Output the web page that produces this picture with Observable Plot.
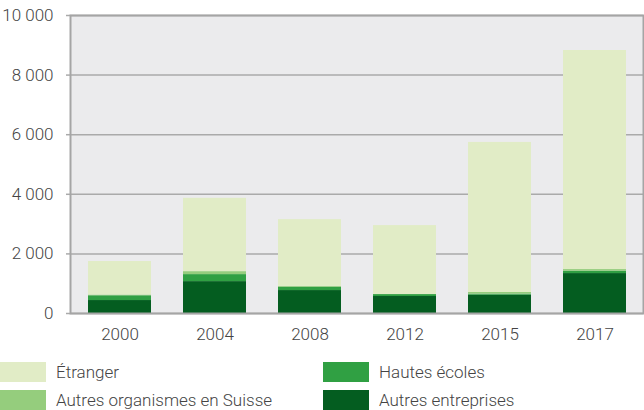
<!DOCTYPE html>
<html>
<head>
<meta charset="utf-8">
<script src="https://cdn.jsdelivr.net/npm/d3@7"></script>
<script src="https://cdn.jsdelivr.net/npm/@observablehq/plot@0.6"></script>
<style>
  body { margin: 0; background: #fff; font-family: Roboto, sans-serif; }
  #chart svg { display: block; }
  #chart svg text { font-weight: 300; }
  .legend { position: relative; height: 48px; margin-top: 12px; font-family: Roboto, sans-serif; font-size: 17px; font-weight: 300; color: #444; }
  .item { position: absolute; display: flex; align-items: center; height: 20px; }
  .sw { width: 46px; height: 20px; margin-right: 10px; }
</style>
</head>
<body>
<div id="chart"></div>
<div class="legend" id="legend"></div>
<script>
const years = ["2000", "2004", "2008", "2012", "2015", "2017"];
const series = ["Autres entreprises", "Hautes écoles", "Autres organismes en Suisse", "Étranger"];
const colors = ["#045d20", "#30a043", "#95cd7d", "#e1ecc6"];
const autresEntreprises = [435, 1070, 770, 570, 615, 1340];
const hautesEcoles = [160, 235, 110, 65, 35, 80];
const autresOrganismes = [25, 100, 30, 5, 55, 55];
const etranger = [1125, 2460, 2240, 2310, 5035, 7350];
const yTicks = [0, 2000, 4000, 6000, 8000, 10000];

const values = [autresEntreprises, hautesEcoles, autresOrganismes, etranger];
const data = [];
series.forEach((s, i) => years.forEach((y, j) => data.push({year: y, series: s, value: values[i][j]})));

const fmt = d => d3.format(",")(d).replace(/,/g, "\u00a0");

const chart = Plot.plot({
  width: 644,
  height: 350,
  marginTop: 15,
  marginBottom: 37,
  marginLeft: 70,
  marginRight: 1,
  style: {fontFamily: "Roboto, sans-serif", fontSize: "17px", color: "#444", background: "#fff"},
  x: {domain: years, paddingInner: 0.34, paddingOuter: 0.17, label: null},
  y: {domain: [0, 10000], label: null},
  color: {domain: series, range: colors},
  marks: [
    Plot.frame({fill: "#ebebed", stroke: null}),
    Plot.gridY(yTicks, {stroke: "#aaa", strokeOpacity: 1, strokeWidth: 1.5}),
    Plot.barY(data, Plot.stackY({x: "year", y: "value", fill: "series", order: series})),
    Plot.axisY(yTicks, {tickFormat: fmt, tickSize: 4, tickPadding: 13, stroke: "#aaa", strokeWidth: 1.5, fill: "#444", label: null}),
    Plot.axisX({tickSize: 0, tickPadding: 14, fill: "#444", label: null}),
    Plot.frame({stroke: "#a5a5a5", strokeWidth: 2})
  ]
});
document.getElementById("chart").append(chart);

const legendItems = [
  {name: "Étranger", color: colors[3], left: 0, top: 0},
  {name: "Hautes écoles", color: colors[1], left: 323, top: 0},
  {name: "Autres organismes en Suisse", color: colors[2], left: 0, top: 28},
  {name: "Autres entreprises", color: colors[0], left: 323, top: 28}
];
const lg = document.getElementById("legend");
legendItems.forEach(it => {
  const d = document.createElement("div");
  d.className = "item";
  d.style.left = it.left + "px";
  d.style.top = it.top + "px";
  const sw = document.createElement("div");
  sw.className = "sw";
  sw.style.background = it.color;
  const t = document.createElement("span");
  t.textContent = it.name;
  d.append(sw, t);
  lg.append(d);
});
</script>
</body>
</html>
